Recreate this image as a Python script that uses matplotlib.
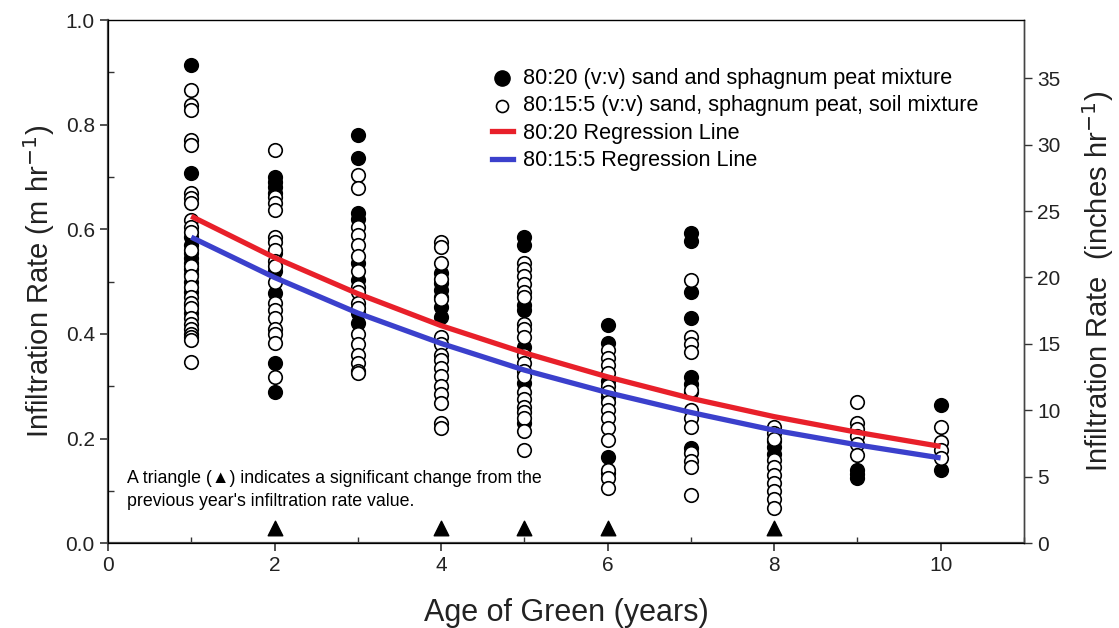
import matplotlib.pyplot as plt
from matplotlib.ticker import MultipleLocator

plt.rcParams['font.family'] = ['Liberation Sans', 'DejaVu Sans']

# years of green age
years = [1, 2, 3, 4, 5, 6, 7, 8, 9, 10]

# 80:20 sand / sphagnum peat, infiltration rate (m/hr), one list per year
mix_8020 = [
    [0.914, 0.707, 0.585, 0.570, 0.555, 0.545, 0.535, 0.525, 0.515, 0.500, 0.480, 0.455, 0.440],
    [0.700, 0.690, 0.680, 0.670, 0.554, 0.520, 0.478, 0.344, 0.289],
    [0.780, 0.736, 0.631, 0.620, 0.535, 0.503, 0.440, 0.421],
    [0.516, 0.497, 0.484, 0.470, 0.451, 0.432],
    [0.585, 0.570, 0.455, 0.445, 0.375, 0.306, 0.229],
    [0.417, 0.382, 0.310, 0.280, 0.164, 0.135],
    [0.593, 0.578, 0.480, 0.430, 0.317, 0.305, 0.290, 0.182],
    [0.195, 0.184, 0.170],
    [0.140, 0.132, 0.124],
    [0.264, 0.140],
]

# 80:15:5 sand / sphagnum peat / soil
mix_80155 = [
    [0.866, 0.837, 0.828, 0.770, 0.761, 0.669, 0.660, 0.650, 0.618, 0.605, 0.595, 0.560,
     0.530, 0.510, 0.490, 0.470, 0.460, 0.450, 0.430, 0.420, 0.410, 0.400, 0.395, 0.388, 0.346],
    [0.751, 0.662, 0.650, 0.637, 0.585, 0.575, 0.560, 0.540, 0.530, 0.500, 0.460, 0.445,
     0.430, 0.410, 0.400, 0.382, 0.317],
    [0.704, 0.679, 0.605, 0.590, 0.570, 0.550, 0.520, 0.490, 0.480, 0.460, 0.450, 0.400,
     0.380, 0.360, 0.345, 0.330, 0.325],
    [0.576, 0.566, 0.535, 0.505, 0.466, 0.394, 0.380, 0.360, 0.350, 0.335, 0.320, 0.300,
     0.285, 0.268, 0.229, 0.220],
    [0.535, 0.525, 0.510, 0.495, 0.480, 0.470, 0.420, 0.410, 0.394, 0.360, 0.345, 0.330,
     0.320, 0.290, 0.275, 0.260, 0.250, 0.240, 0.215, 0.178],
    [0.369, 0.355, 0.340, 0.325, 0.300, 0.290, 0.270, 0.255, 0.240, 0.220, 0.197, 0.140,
     0.125, 0.105],
    [0.503, 0.394, 0.380, 0.365, 0.293, 0.254, 0.240, 0.222, 0.172, 0.158, 0.145, 0.092],
    [0.222, 0.210, 0.200, 0.160, 0.145, 0.130, 0.115, 0.100, 0.085, 0.067],
    [0.270, 0.229, 0.218, 0.205, 0.190, 0.168],
    [0.222, 0.193, 0.178, 0.163],
]

# regression lines read at each year
reg_8020 = [0.625, 0.546, 0.477, 0.416, 0.364, 0.318, 0.277, 0.242, 0.212, 0.185]
reg_80155 = [0.585, 0.508, 0.440, 0.382, 0.331, 0.288, 0.250, 0.216, 0.188, 0.163]

# years with a significant change from the previous year
sig_years = [2, 4, 5, 6, 8]
sig_level = 0.03

M_TO_IN = 39.37

fig = plt.figure(figsize=(11.19, 6.28), dpi=100)
ax = fig.add_axes([0.0965, 0.135, 0.8185, 0.833])

for yr, vals in zip(years, mix_8020):
    ax.scatter([yr] * len(vals), vals, s=95, c='black', edgecolors='black',
               linewidths=1.2, zorder=2)
for yr, vals in zip(years, mix_80155):
    ax.scatter([yr] * len(vals), vals, s=95, c='white', edgecolors='black',
               linewidths=1.2, zorder=3)

ax.plot(years, reg_8020, color='#e8202a', lw=3.8, zorder=4, solid_capstyle='butt')
ax.plot(years, reg_80155, color='#3b40cc', lw=3.8, zorder=4, solid_capstyle='butt')

ax.scatter(sig_years, [sig_level] * len(sig_years), marker='^', s=110, c='black', zorder=5)

# legend
h1 = ax.scatter([], [], s=120, c='black')
h2 = ax.scatter([], [], s=75, c='white', edgecolors='black', linewidths=1.2)
h3, = ax.plot([], [], color='#e8202a', lw=3.8)
h4, = ax.plot([], [], color='#3b40cc', lw=3.8)
ax.legend([h1, h2, h3, h4],
          ['80:20 (v:v) sand and sphagnum peat mixture',
           '80:15:5 (v:v) sand, sphagnum peat, soil mixture',
           '80:20 Regression Line',
           '80:15:5 Regression Line'],
          loc='upper right', bbox_to_anchor=(0.960, 0.925), frameon=False,
          fontsize=15.6, handlelength=1.0, handletextpad=0.45, labelspacing=0.3,
          borderaxespad=0)

ax.text(0.23, 0.101, 'A triangle (\u25B2) indicates a significant change from the\n'
        "previous year's infiltration rate value.", fontsize=12.8,
        va='center', ha='left', linespacing=1.45)

ax.set_xlim(0, 11)
ax.set_ylim(0, 1.0)
ax.xaxis.set_major_locator(MultipleLocator(2))
ax.xaxis.set_minor_locator(MultipleLocator(1))
ax.yaxis.set_major_locator(MultipleLocator(0.2))
ax.yaxis.set_minor_locator(MultipleLocator(0.1))
ax.yaxis.set_major_formatter(plt.FuncFormatter(lambda v, p: f'{v:.1f}'))
ax.tick_params(which='major', direction='out', length=6, width=1.2, labelsize=15,
               colors='#333333', labelcolor='#222222')
ax.tick_params(which='minor', direction='in', length=4, width=1.0, colors='#333333')
for side in ['left', 'bottom']:
    ax.spines[side].set_linewidth(1.6)
    ax.spines[side].set_color('#444444')
for side in ['top', 'right']:
    ax.spines[side].set_linewidth(1.0)
    ax.spines[side].set_color('#444444')

ax.set_xlabel('Age of Green (years)', fontsize=22, labelpad=16, color='#222222')
ax.set_ylabel('Infiltration Rate (m hr$^{-1}$)', fontsize=21, labelpad=6, color='#222222')

ax2 = ax.twinx()
ax2.set_ylim(0, 1.0 * M_TO_IN)
ax2.yaxis.set_major_locator(MultipleLocator(5))
ax2.tick_params(which='major', direction='out', length=6, width=1.0, labelsize=15,
                colors='#333333', labelcolor='#222222')
ax2.spines['right'].set_linewidth(1.0)
ax2.spines['right'].set_color('#444444')
ax2.set_ylabel('Infiltration Rate  (inches hr$^{-1}$)', fontsize=21, labelpad=14,
               color='#222222')

fig.savefig('out.png', dpi=100)
